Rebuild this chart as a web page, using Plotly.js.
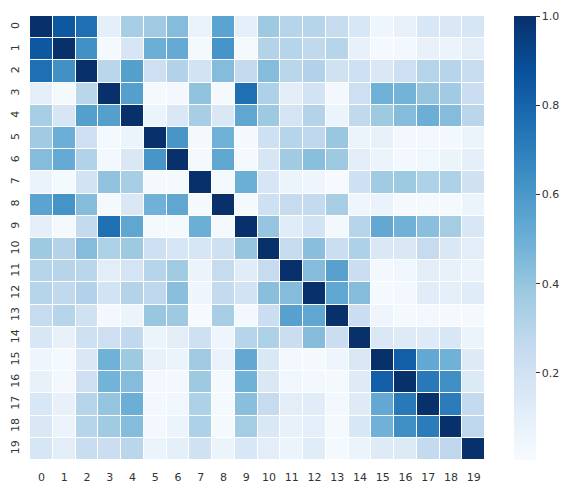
<!DOCTYPE html>
<html>
<head>
<meta charset="utf-8">
<script src="https://cdn.plot.ly/plotly-3.0.1.min.js"></script>
<style>
  html, body { margin: 0; padding: 0; background: #fff; }
  #plot { width: 580px; height: 493px; }
</style>
</head>
<body>
<div id="plot"></div>
<script>
// ラベル
const labels = ['0','1','2','3','4','5','6','7','8','9','10','11','12','13','14','15','16','17','18','19'];

// 相関行列 (上三角を読み取り、対称にする)
const row0  = [1.00,0.85,0.76,0.10,0.35,0.37,0.44,0.07,0.55,0.10,0.38,0.30,0.30,0.25,0.16,0.05,0.08,0.16,0.15,0.17];
const row1  = [0.63,0.02,0.17,0.50,0.52,0.02,0.62,0.02,0.31,0.30,0.27,0.30,0.08,0.02,0.03,0.08,0.06,0.11];
const row2  = [0.29,0.57,0.22,0.32,0.19,0.44,0.26,0.44,0.29,0.32,0.20,0.21,0.15,0.22,0.30,0.30,0.24];
const row3  = [0.57,0.02,0.03,0.41,0.02,0.76,0.33,0.11,0.19,0.03,0.22,0.49,0.48,0.40,0.37,0.23];
const row4  = [0.06,0.15,0.35,0.15,0.54,0.38,0.18,0.31,0.06,0.27,0.38,0.44,0.50,0.44,0.29];
const row5  = [0.61,0.02,0.49,0.02,0.21,0.30,0.28,0.39,0.06,0.08,0.03,0.03,0.03,0.06];
const row6  = [0.02,0.54,0.02,0.17,0.37,0.43,0.38,0.11,0.06,0.03,0.04,0.06,0.10];
const row7  = [0.02,0.50,0.17,0.06,0.05,0.01,0.21,0.37,0.38,0.33,0.33,0.20];
const row8  = [0.02,0.21,0.25,0.26,0.35,0.05,0.07,0.02,0.02,0.02,0.06];
const row9  = [0.40,0.12,0.19,0.03,0.30,0.53,0.49,0.43,0.36,0.16];
const row10 = [0.25,0.43,0.23,0.33,0.15,0.15,0.25,0.15,0.11];
const row11 = [0.44,0.56,0.23,0.03,0.04,0.11,0.08,0.06];
const row12 = [0.54,0.44,0.02,0.03,0.12,0.10,0.12];
const row13 = [0.23,0.05,0.02,0.03,0.02,0.02];
const row14 = [0.15,0.13,0.13,0.16,0.06];
const row15 = [0.82,0.53,0.49,0.13];
const row16 = [0.72,0.64,0.14];
const row17 = [0.71,0.26];
const row18 = [0.28];
const upper = [row0,row1,row2,row3,row4,row5,row6,row7,row8,row9,row10,row11,row12,row13,row14,row15,row16,row17,row18];

const n = labels.length;
const z = [];
for (let i = 0; i < n; i++) z.push(new Array(n).fill(1));
for (let i = 0; i < upper.length; i++) {
  // row0は対角を含む
  const off = i === 0 ? 0 : 1;
  for (let k = 0; k < upper[i].length; k++) {
    const j = i + off + k;
    if (i === 0 && k === 0) continue;
    z[i][j] = upper[i][k];
    z[j][i] = upper[i][k];
  }
}

// matplotlib Blues
const blues = [
  [0.0, '#f7fbff'], [0.125, '#deebf7'], [0.25, '#c6dbef'], [0.375, '#9ecae1'],
  [0.5, '#6baed6'], [0.625, '#4292c6'], [0.75, '#2171b5'], [0.875, '#08519c'], [1.0, '#08306b']
];

const trace = {
  type: 'heatmap',
  z: z, x: labels, y: labels,
  colorscale: blues, zmin: 0.005, zmax: 1,
  xgap: 1, ygap: 1,
  hoverongaps: false,
  colorbar: {
    thickness: 22, len: 1, lenmode: 'fraction', y: 0.5, yanchor: 'middle', ypad: 0,
    x: 1.0637, xanchor: 'left', xpad: 0, outlinewidth: 0,
    tickvals: [0.2, 0.4, 0.6, 0.8, 1.0], ticktext: ['0.2','0.4','0.6','0.8','1.0'],
    ticks: 'outside', ticklen: 4, tickwidth: 1, tickcolor: '#333',
    tickfont: { family: 'DejaVu Sans', size: 11, color: '#333' }
  }
};

const layout = {
  width: 580, height: 493,
  margin: { l: 30, r: 95, t: 16, b: 33 },
  paper_bgcolor: '#fff', plot_bgcolor: '#fff',
  xaxis: {
    type: 'category', showgrid: false, zeroline: false, showline: false,
    ticks: 'outside', ticklen: 7, tickcolor: 'rgba(0,0,0,0)',
    tickfont: { family: 'DejaVu Sans', size: 11, color: '#333' }
  },
  yaxis: {
    type: 'category', autorange: 'reversed', showgrid: false, zeroline: false, showline: false,
    ticks: 'outside', ticklen: 6, tickcolor: 'rgba(0,0,0,0)', tickangle: -90,
    tickfont: { family: 'DejaVu Sans', size: 11, color: '#333' }
  }
};

Plotly.newPlot('plot', [trace], layout, { displayModeBar: false, staticPlot: true });
</script>
</body>
</html>
